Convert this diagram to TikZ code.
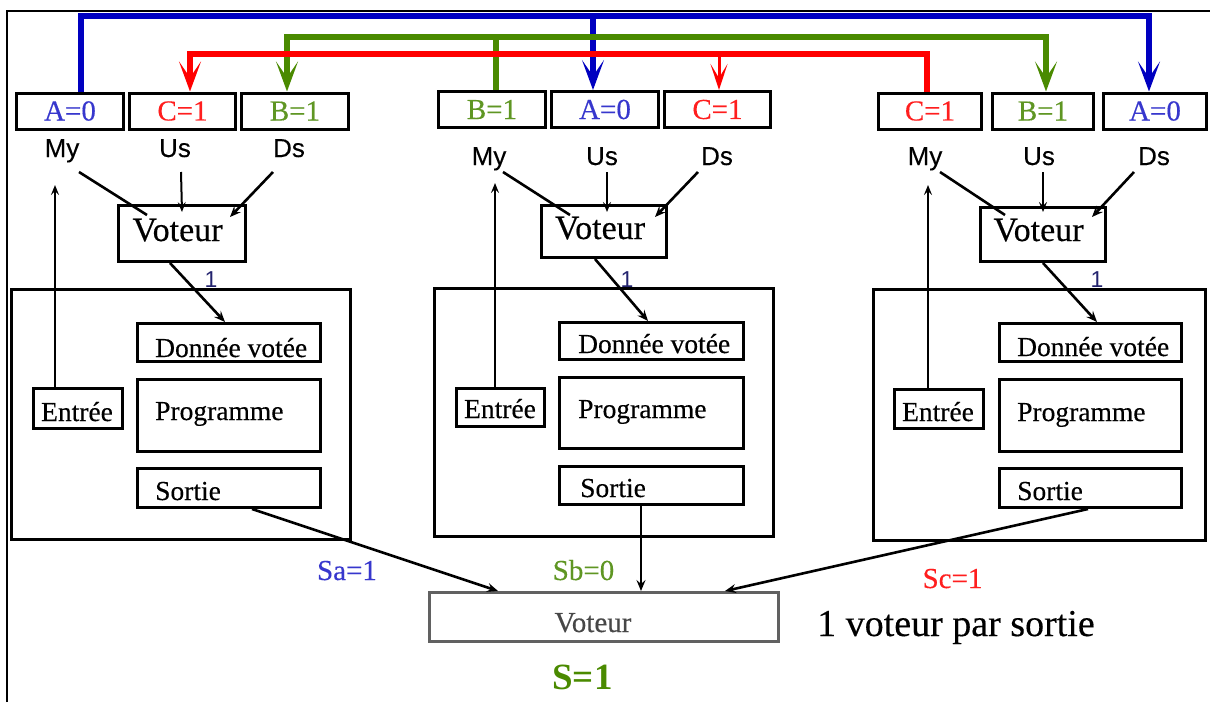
\documentclass[tikz,border=0pt]{standalone}
\usepackage{fontspec}
\setmainfont{Liberation Serif}
\setsansfont{Liberation Sans}
\newfontfamily\heavyrm{Liberation Serif}[FakeBold=0.35]
\newfontfamily\heavysf{Liberation Sans}[FakeBold=0.25]
\usetikzlibrary{arrows.meta,calc}
\definecolor{busblue}{RGB}{0,0,192}
\definecolor{busgreen}{RGB}{74,138,0}
\definecolor{busred}{RGB}{255,0,0}
\definecolor{txtblue}{RGB}{55,55,205}
\definecolor{txtgreen}{RGB}{95,150,35}
\definecolor{txtred}{RGB}{255,30,30}
\definecolor{navy}{RGB}{35,35,110}
\newcommand\fsz[1]{\fontsize{#1}{#1}\selectfont}

\begin{document}
\begin{tikzpicture}[x=1pt,y=-1pt,
  cell/.style={draw,line width=3pt,inner sep=0pt,minimum height=36pt,font=\heavyrm\fsz{29}},
  box/.style={draw,line width=3pt,inner sep=0pt},
  txt/.style={inner sep=0pt,anchor=base,font=\heavyrm\fsz{27.5}},
  ltxt/.style={txt,anchor=base west},
  port/.style={inner sep=0pt,anchor=base,font=\heavysf\fsz{26}},
  onelbl/.style={inner sep=0pt,anchor=base,text=navy,font=\sffamily\fsz{23}},
  wire/.style={line width=2.6pt},
  arr/.style={wire,-{Stealth[length=11pt,width=9pt,inset=4pt]}},
  thinarr/.style={line width=2pt,-{Stealth[length=10pt,width=8pt,inset=4pt]}},
  bus/.style={line width=6pt},
  bighead/.tip={Stealth[length=30pt,width=22pt,inset=16pt]},
  smallhead/.tip={Stealth[length=26pt,width=17pt,inset=14pt]},
]
\useasboundingbox (0,0) rectangle (1210,702);

% outer frame
\draw[line width=2pt] (7,702) -- (7,11) -- (1210,11);

% ---------- unit A ----------
\node[cell,minimum width=107pt,text=txtblue]  (A1) at (70,111)    {A=0};
\node[cell,minimum width=106pt,text=txtred]   (C1) at (182.5,111) {C=1};
\node[cell,minimum width=107pt,text=txtgreen] (B1) at (295,111)   {B=1};
\node[port] (my1) at (62,157)  {My};
\node[port] (us1) at (175,157) {Us};
\node[port] (ds1) at (289,157) {Ds};
\node[box,minimum width=127pt,minimum height=56pt] (v1) at (182,233.5) {};
\node[txt,font=\heavyrm\fsz{34}] (v1t) at (177.5,241) {Voteur};
\node[onelbl] (o1) at (211,287) {1};
\node[box,minimum width=339pt,minimum height=250pt] (pa) at (181,414.5) {};
\node[box,minimum width=183pt,minimum height=38pt] (d1) at (229,342.5) {};
\node[box,minimum width=183pt,minimum height=72pt] (p1) at (229,415.5) {};
\node[box,minimum width=183pt,minimum height=39pt] (s1) at (229,488) {};
\node[box,minimum width=89pt,minimum height=40pt]  (e1) at (78,408.5) {};
\node[ltxt] (d1t) at (155,357) {Donnée votée};
\node[ltxt] (p1t) at (155,420) {Programme};
\node[ltxt] (s1t) at (155,500) {Sortie};
\node[txt]  (e1t) at (77,421)  {Entrée};

% ---------- unit B ----------
\node[cell,minimum width=107pt,text=txtgreen] (B2) at (492,109.5)   {B=1};
\node[cell,minimum width=107pt,text=txtblue]  (A2) at (605,109.5)   {A=0};
\node[cell,minimum width=106pt,text=txtred]   (C2) at (717.5,109.5) {C=1};
\node[port] (my2) at (489,165) {My};
\node[port] (us2) at (602,165) {Us};
\node[port] (ds2) at (717,165) {Ds};
\node[box,minimum width=125pt,minimum height=52pt] (v2) at (604,231.5) {};
\node[txt,font=\heavyrm\fsz{34}] (v2t) at (600,239) {Voteur};
\node[onelbl] (o2) at (627,287) {1};
\node[box,minimum width=339pt,minimum height=248pt] (pb) at (604,412.5) {};
\node[box,minimum width=184pt,minimum height=37pt] (d2) at (651.5,341) {};
\node[box,minimum width=184pt,minimum height=71pt] (p2) at (651.5,413) {};
\node[box,minimum width=184pt,minimum height=38pt] (s2) at (651.5,485.5) {};
\node[box,minimum width=88pt,minimum height=38pt]  (e2) at (500.5,407.5) {};
\node[ltxt] (d2t) at (578,353) {Donnée votée};
\node[ltxt] (p2t) at (578,418) {Programme};
\node[ltxt] (s2t) at (580,497) {Sortie};
\node[txt]  (e2t) at (500,418) {Entrée};

% ---------- unit C ----------
\node[cell,minimum width=103pt,text=txtred]   (C3) at (930,111)  {C=1};
\node[cell,minimum width=101pt,text=txtgreen] (B3) at (1043,111) {B=1};
\node[cell,minimum width=103pt,text=txtblue]  (A3) at (1155,111) {A=0};
\node[port] (my3) at (925,165)  {My};
\node[port] (us3) at (1039,165) {Us};
\node[port] (ds3) at (1154,165) {Ds};
\node[box,minimum width=125pt,minimum height=54pt] (v3) at (1043,234.5) {};
\node[txt,font=\heavyrm\fsz{34}] (v3t) at (1038.5,241) {Voteur};
\node[onelbl] (o3) at (1097,287) {1};
\node[box,minimum width=332pt,minimum height=251pt] (pc) at (1039.5,415) {};
\node[box,minimum width=182pt,minimum height=38pt] (d3) at (1090.5,342.5) {};
\node[box,minimum width=182pt,minimum height=72pt] (p3) at (1090.5,415.5) {};
\node[box,minimum width=182pt,minimum height=39pt] (s3) at (1090.5,488) {};
\node[box,minimum width=89pt,minimum height=39pt]  (e3) at (939,409) {};
\node[ltxt] (d3t) at (1017,356) {Donnée votée};
\node[ltxt] (p3t) at (1017,421) {Programme};
\node[ltxt] (s3t) at (1017,500) {Sortie};
\node[txt]  (e3t) at (938,421)  {Entrée};

% ---------- output voter ----------
\node[box,draw=black!62,minimum width=349pt,minimum height=49pt] (V) at (604,617) {};
\node[txt,font=\heavyrm\fsz{29},text=black!72] (Vt) at (593,632) {Voteur};
\node[txt,font=\heavyrm\fsz{29},text=txtblue]  (sa) at (347,580)   {Sa=1};
\node[txt,font=\heavyrm\fsz{29},text=txtgreen] (sb) at (583.5,580) {Sb=0};
\node[txt,font=\heavyrm\fsz{29},text=txtred]   (sc) at (952.5,588) {Sc=1};
\node[txt,font=\rmfamily\bfseries\fsz{37},text=busgreen] (S) at (582.5,689) {S=1};
\node[ltxt,font=\heavyrm\fsz{38}] (note) at (817,636) {1 voteur par sortie};

% ---------- local voter inputs ----------
\coordinate (in1) at ($(my1.base)+(-7,28)$);
\coordinate (in2) at ($(my2.base)+(6,18)$);
\coordinate (in3) at ($(my3.base)+(3,20)$);
\foreach \u in {1,2,3}{
  \draw[thinarr] (e\u.north -| in\u) -- (in\u);
}

\draw[wire]    ($(my1.base)+(17,15)$) -- ($(v1)+(-35,-18.5)$);
\draw[thinarr] ($(us1.base)+(6,15)$)  -- ($(v1)+(0,-21.5)$);
\draw[arr]     ($(ds1.base)+(-16,15)$) -- ($(v1)+(48,-16.5)$);

\draw[wire]    ($(my2.base)+(14,7)$)  -- ($(v2)+(-34,-16.5)$);
\draw[thinarr] ($(us2.base)+(5,7)$)   -- ($(v2)+(3,-19.5)$);
\draw[arr]     ($(ds2.base)+(-19,7)$) -- ($(v2)+(51,-14.5)$);

\draw[wire]    ($(my3.base)+(15,7)$)  -- ($(v3)+(-38,-19.5)$);
\draw[thinarr] ($(us3.base)+(4,7)$)   -- ($(v3)+(0,-22.5)$);
\draw[arr]     ($(ds3.base)+(-20,7)$) -- ($(v3)+(49,-17.5)$);

% voted value into each unit
\draw[arr] ([xshift=-12pt]v1.south) -- ([xshift=-4pt]d1.north);
\draw[arr] ([xshift=-9pt]v2.south)  -- ([xshift=-3.5pt]d2.north);
\draw[arr] (v3.south)               -- ([xshift=6.5pt]d3.north);

% outputs to the final voter
\draw[arr] ([xshift=23pt]s1.south)    -- ([xshift=-106pt]V.north);
\draw[arr] ([xshift=-10.5pt]s2.south) -- ([xshift=37pt]V.north);
\draw[arr] ([xshift=-2.5pt]s3.south)  -- ([xshift=121pt]V.north);

% ---------- exchange buses ----------
\coordinate (bl1) at (81,16);  \coordinate (bl2) at (593,16);  \coordinate (bl3) at (1149,16);
\coordinate (gr1) at (287,37); \coordinate (gr2) at (496,37);  \coordinate (gr3) at (1046,37);
\coordinate (rd1) at (190,54); \coordinate (rd2) at (719,54);  \coordinate (rd3) at (927,54);

\draw[bus,busblue,-bighead] (bl1 |- A1.north) -- (bl1) -- (bl3) -- (bl3 |- A3.north);
\draw[bus,busblue,-bighead] (bl2) -- (bl2 |- A2.north);

\draw[bus,busgreen,bighead-bighead] (gr1 |- B1.north) -- (gr1) -- (gr3) -- (gr3 |- B3.north);
\draw[bus,busgreen] (gr2 |- B2.north) -- (gr2);

\draw[bus,busred,bighead-] (rd1 |- C1.north) -- (rd1) -- (rd3) -- (rd3 |- C3.north);
\draw[line width=3pt,busred,-smallhead] (rd2) -- (rd2 |- C2.north);
\end{tikzpicture}
\end{document}
